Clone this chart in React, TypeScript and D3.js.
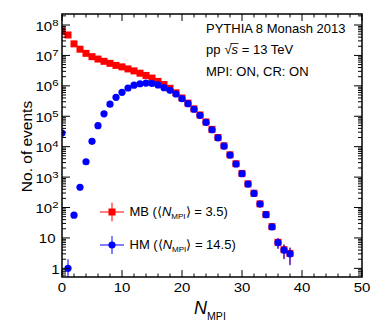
import React from "react";
import * as d3 from "d3";

const nmpi = [0,1,2,3,4,5,6,7,8,9,10,11,12,13,14,15,16,17,18,19,20,21,22,23,24,25,26,27,28,29,30,31,32,33,34,35,36,37,38];
const mbValues = [6.3e7,4.7e7,2.4e7,1.6e7,1.17e7,9.1e6,7.6e6,6.4e6,5.5e6,4.7e6,4.2e6,3.6e6,3.1e6,2.6e6,2.2e6,1.8e6,1.4e6,1.1e6,8.3e5,5.9e5,4.0e5,2.7e5,1.75e5,1.1e5,6.5e4,3.7e4,2.0e4,1.07e4,5.4e3,2.75e3,1.32e3,600,295,132,59,23.5,7.2,4.1,3.1];
const hmValues = [2.8e4,1,56,460,3200,1.5e4,4.9e4,1.2e5,2.5e5,4.2e5,6.1e5,8.5e5,1.05e6,1.17e6,1.23e6,1.2e6,1.07e6,8.7e5,7.1e5,5.4e5,3.8e5,2.6e5,1.7e5,1.07e5,6.3e4,3.6e4,1.96e4,1.05e4,5.3e3,2.7e3,1.3e3,590,290,130,58,23,7,4,3];
const xTicks = [0,10,20,30,40,50];
const yTicks = [1,10,1e2,1e3,1e4,1e5,1e6,1e7,1e8];
const infoLines = ["PYTHIA 8 Monash 2013", "pp", "MPI: ON, CR: ON"];

const W = 378, H = 327;
const L = 62, R = 362, T = 14, B = 277;
const FONT = "'Liberation Sans', Arial, Helvetica, sans-serif";
const SX = 1.2;

export default function App() {
  const x = d3.scaleLinear().domain([0, 50]).range([L, R]);
  const y = d3.scaleLog().domain([0.52, 2.3e8]).range([B, T]);
  const [y0, y1] = y.domain();

  const minorX = d3.range(0, 50.001, 2).filter((v) => v % 10 !== 0);
  const minorY: number[] = [];
  for (let d = -1; d <= 8; d++) {
    for (let k = 2; k <= 9; k++) {
      const v = k * Math.pow(10, d);
      if (v >= y0 && v <= y1) minorY.push(v);
    }
  }

  const errBar = (v: number) => {
    const e = Math.sqrt(v);
    const lo = v - e;
    return [lo > y0 ? y(lo) : B, y(Math.min(v + e, y1))];
  };

  const ms = 7;

  const yLabel = (v: number) => {
    const e = Math.round(Math.log10(v));
    const ay = y(v) + 5.5;
    if (e === 0 || e === 1) {
      const ax = e === 0 ? 59.5 : 55.5;
      return (
        <g transform={`translate(${ax},${ay}) scale(${SX},1)`}>
          <text textAnchor="end" fontSize={12.5}>{e === 0 ? "1" : "10"}</text>
        </g>
      );
    }
    return (
      <g transform={`translate(58.5,${ay}) scale(${SX},1)`}>
        <text textAnchor="end" fontSize={12.5}>
          <tspan>10</tspan>
          <tspan dy={-5} fontSize={9.5}>{e}</tspan>
        </text>
      </g>
    );
  };

  return (
    <svg width={W} height={H} style={{ position: "absolute", left: 0, top: 0, background: "#fff" }} fontFamily={FONT}>
      <defs>
        <clipPath id="plotclip">
          <rect x={L} y={T} width={R - L} height={B - T} />
        </clipPath>
      </defs>
      <rect x={0} y={0} width={W} height={H} fill="#fff" />

      {/* data */}
      <g clipPath="url(#plotclip)">
        {nmpi.map((n, i) => {
          const [a, b] = errBar(mbValues[i]);
          return (
            <g key={"mb" + n}>
              <line x1={x(n)} x2={x(n)} y1={a} y2={b} stroke="#ff0000" strokeWidth={1} />
              <rect x={x(n) - ms / 2} y={y(mbValues[i]) - ms / 2} width={ms} height={ms} fill="#ff0000" />
            </g>
          );
        })}
        {nmpi.map((n, i) => {
          const [a, b] = errBar(hmValues[i]);
          return (
            <g key={"hm" + n}>
              <line x1={x(n)} x2={x(n)} y1={a} y2={b} stroke="#0000ff" strokeWidth={1} />
              <circle cx={x(n)} cy={y(hmValues[i])} r={3.6} fill="#0000ff" />
            </g>
          );
        })}
      </g>

      {/* frame */}
      <rect x={L} y={T} width={R - L} height={B - T} fill="none" stroke="#000" strokeWidth={1.5} />

      {/* x ticks */}
      {xTicks.map((v) => (
        <g key={"xt" + v}>
          <line x1={x(v)} x2={x(v)} y1={B} y2={B - 7} stroke="#000" />
          <line x1={x(v)} x2={x(v)} y1={T} y2={T + 7} stroke="#000" />
          <g transform={`translate(${x(v)},291.7) scale(${SX},1)`}>
            <text textAnchor="middle" fontSize={12.5}>{v}</text>
          </g>
        </g>
      ))}
      {minorX.map((v) => (
        <g key={"xm" + v}>
          <line x1={x(v)} x2={x(v)} y1={B} y2={B - 3.5} stroke="#000" />
          <line x1={x(v)} x2={x(v)} y1={T} y2={T + 3.5} stroke="#000" />
        </g>
      ))}

      {/* y ticks */}
      {yTicks.map((v) => (
        <g key={"yt" + v}>
          <line x1={L} x2={L + 8} y1={y(v)} y2={y(v)} stroke="#000" />
          <line x1={R} x2={R - 8} y1={y(v)} y2={y(v)} stroke="#000" />
          {yLabel(v)}
        </g>
      ))}
      {minorY.map((v) => (
        <g key={"ym" + v}>
          <line x1={L} x2={L + 4} y1={y(v)} y2={y(v)} stroke="#000" />
          <line x1={R} x2={R - 4} y1={y(v)} y2={y(v)} stroke="#000" />
        </g>
      ))}

      {/* axis titles */}
      <text transform={`translate(32,146.5) rotate(-90)`} textAnchor="middle" fontSize={15.5}>No. of events</text>
      <text x={194} y={313.5} fontSize={18}>
        <tspan fontStyle="italic">N</tspan>
        <tspan dy={6} fontSize={10.6}>MPI</tspan>
      </text>

      {/* info text */}
      <text x={206} y={33} fontSize={13}>{infoLines[0]}</text>
      <text x={206} y={54} fontSize={13}>
        <tspan>{infoLines[1]}</tspan>
        <tspan dx={4}>√</tspan>
        <tspan fontStyle="italic">s</tspan>
        <tspan> = 13 TeV</tspan>
      </text>
      <line x1={230.5} x2={238.5} y1={43.5} y2={43.5} stroke="#000" strokeWidth={0.8} />
      <text x={206} y={76} fontSize={13}>{infoLines[2]}</text>

      {/* legend */}
      <g>
        <line x1={100} x2={124} y1={212} y2={212} stroke="#ff0000" />
        <line x1={112} x2={112} y1={202.5} y2={221.5} stroke="#ff0000" />
        <rect x={112 - ms / 2} y={212 - ms / 2} width={ms} height={ms} fill="#ff0000" />
        <text x={129.5} y={216} fontSize={13}>
          <tspan>MB (⟨</tspan>
          <tspan fontStyle="italic">N</tspan>
          <tspan dy={3} fontSize={8}>MPI</tspan>
          <tspan dy={-3}>⟩ = 3.5)</tspan>
        </text>
        <line x1={100} x2={124} y1={245} y2={245} stroke="#0000ff" />
        <line x1={112} x2={112} y1={236} y2={254} stroke="#0000ff" />
        <circle cx={112} cy={245} r={3.6} fill="#0000ff" />
        <text x={129.5} y={249} fontSize={13}>
          <tspan>HM (⟨</tspan>
          <tspan fontStyle="italic">N</tspan>
          <tspan dy={3} fontSize={8}>MPI</tspan>
          <tspan dy={-3}>⟩ = 14.5)</tspan>
        </text>
      </g>
    </svg>
  );
}
